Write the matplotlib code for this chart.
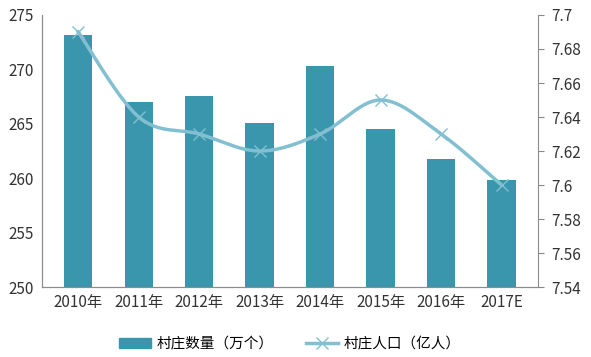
import numpy as np
import matplotlib
matplotlib.use('Agg')
import matplotlib.pyplot as plt
from matplotlib.lines import Line2D
from matplotlib.patches import Patch

plt.rcParams['font.family'] = ['Noto Sans CJK SC', 'DejaVu Sans']

years      = ['2010年', '2011年', '2012年', '2013年', '2014年', '2015年', '2016年', '2017E']
villages   = [273.2, 267.0, 267.6, 265.1, 270.3, 264.5, 261.8, 259.8]   # 万个
population = [7.69, 7.64, 7.63, 7.62, 7.63, 7.65, 7.63, 7.60]           # 亿人

bar_color  = '#3a96ad'
line_color = '#82bfd0'


def smooth(xs, ys, n=30):
    # Catmull-Rom curve through the points, like Excel's smoothed line
    xs = np.asarray(xs, float)
    ys = np.asarray(ys, float)
    px = np.concatenate([[xs[0]], xs, [xs[-1]]])
    py = np.concatenate([[ys[0]], ys, [ys[-1]]])
    out_x, out_y = [], []
    t = np.linspace(0, 1, n)
    for i in range(1, len(px) - 2):
        p0, p1, p2, p3 = [np.array([px[j], py[j]]) for j in (i - 1, i, i + 1, i + 2)]
        c1 = p1 + (p2 - p0) / 6
        c2 = p2 - (p3 - p1) / 6
        b = ((1 - t) ** 3)[:, None] * p1 + (3 * (1 - t) ** 2 * t)[:, None] * c1 \
            + (3 * (1 - t) * t ** 2)[:, None] * c2 + (t ** 3)[:, None] * p2
        out_x.extend(b[:, 0])
        out_y.extend(b[:, 1])
    return np.array(out_x), np.array(out_y)


fig = plt.figure(figsize=(5.91, 3.57), dpi=100)
ax = fig.add_axes([0.071, 0.196, 0.839, 0.762])
x = np.arange(len(years))

ax.bar(x, villages, width=0.47, color=bar_color, zorder=2)
ax.set_ylim(250, 275)
ax.set_yticks(np.arange(250, 276, 5))
ax.set_xlim(-0.6, len(years) - 0.4)
ax.set_xticks(x)
ax.set_xticklabels(years, fontsize=11)
ax.tick_params(axis='y', length=0, labelsize=11, pad=6, colors='#333333')
ax.tick_params(axis='x', length=0, pad=5, colors='#333333')

ax2 = ax.twinx()
sx, sy = smooth(x, population)
ax2.plot(sx, sy, color=line_color, lw=2.5, zorder=3)
ax2.plot(x, population, ls='none', marker='x', ms=8, mew=1.0, color=line_color, zorder=4)
ax2.set_ylim(7.54, 7.70)
ax2.set_yticks(np.round(np.arange(7.54, 7.701, 0.02), 2))
ax2.set_yticklabels(['7.54', '7.56', '7.58', '7.6', '7.62', '7.64', '7.66', '7.68', '7.7'])
ax2.tick_params(axis='y', length=4, direction='out', labelsize=11, pad=6,
                colors='#333333', color='#888888')

for a in (ax, ax2):
    a.spines['top'].set_visible(False)
    for s in ('left', 'right', 'bottom'):
        a.spines[s].set_color('#8c8c8c')
ax.spines['right'].set_visible(False)

handles = [Patch(color=bar_color, label='村庄数量（万个）'),
           Line2D([], [], color=line_color, lw=2.5, marker='x', ms=8, label='村庄人口（亿人）')]
fig.legend(handles=handles, loc='lower center', bbox_to_anchor=(0.49, -0.02), ncol=2,
           frameon=False, fontsize=10.5, handlelength=2.2, handletextpad=0.4, columnspacing=2.2)

fig.savefig('out.png', dpi=100)
